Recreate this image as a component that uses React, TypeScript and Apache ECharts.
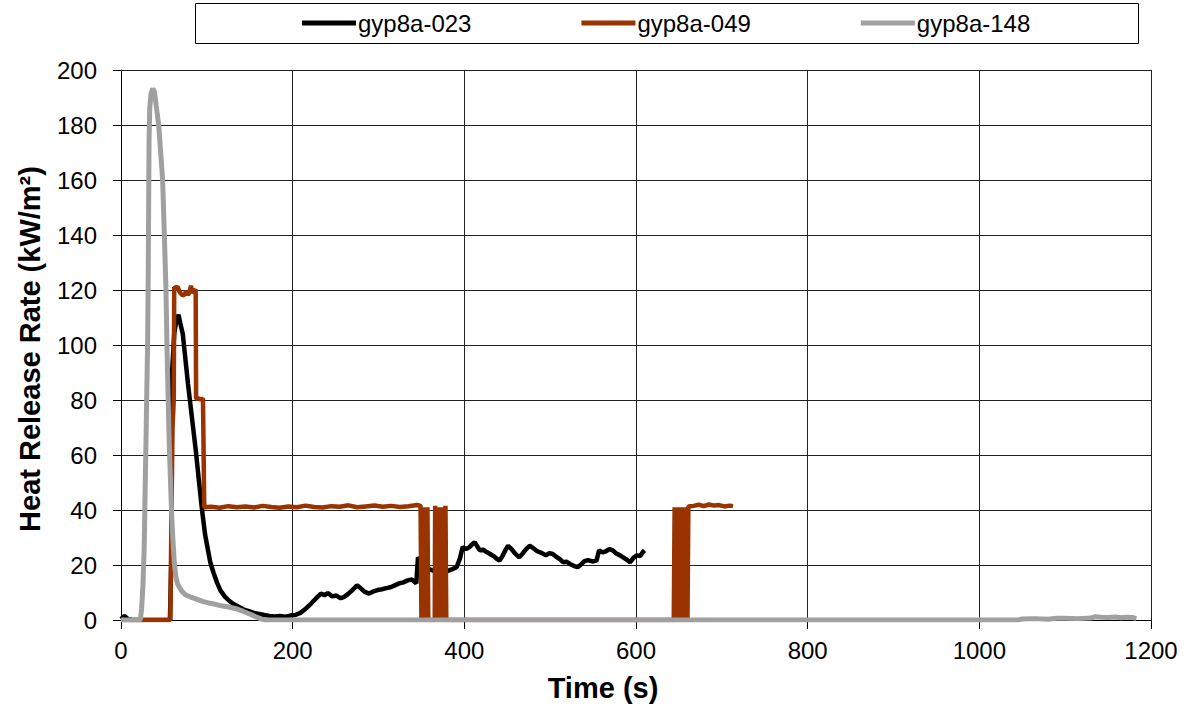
import React, { useEffect, useRef } from "react";
import * as echarts from "echarts";

// Heat release rate curves, [time (s), HRR (kW/m²)]
const seriesNames = ["gyp8a-023", "gyp8a-049", "gyp8a-148"];
const seriesColors = ["#000000", "#993300", "#a0a0a0"];

const hrr023: [number, number][] = [
  [0, 0.3], [4, 1.5], [8, 0.4], [12, 0], [57, 0], [58.5, 20], [59.5, 90],
  [62, 104], [64.5, 109], [67, 111], [69, 108], [72, 104], [75, 95], [78, 86], [81, 78],
  [84, 70], [87, 62], [90, 53], [93, 44], [95, 38.5], [98, 31], [101, 26], [104, 21],
  [108, 17], [112, 13.5], [116, 10.7], [121, 8.5], [126, 7], [131, 5.8], [137, 4.8],
  [143, 3.8], [149, 3.2], [155, 2.6], [161, 2.2], [167, 1.8], [173, 1.5], [179, 1.3],
  [185, 1.5], [191, 1.2], [197, 1.6], [203, 1.8], [209, 2.6], [214, 3.8], [219, 5.2],
  [224, 6.8], [229, 8.4], [233, 9.6], [237, 9.0], [241, 9.8], [246, 8.6], [251, 8.9],
  [256, 7.9], [260, 8.4], [265, 9.6], [270, 11.0], [275, 12.6], [279, 11.6], [284, 10.2],
  [289, 9.6], [294, 10.4], [299, 10.9], [304, 11.2], [309, 11.6], [314, 11.9], [319, 12.6],
  [324, 13.3], [329, 13.7], [334, 14.4], [339, 14.7], [344, 13.3], [346, 22.8], [349, 21.5],
  [352, 20.4], [357, 18.8], [363, 18.0], [369, 17.6], [375, 18.4], [380, 17.8], [386, 18.5],
  [391, 19.2], [395, 22.5], [398, 26.5], [402, 25.8], [406, 26.5], [409, 27.5], [412, 28.3],
  [415, 26.8], [418, 25.3], [422, 25.6], [426, 24.7], [430, 24.0], [434, 23.3], [438, 22.2],
  [441, 21.6], [444, 23.0], [448, 25.5], [451, 27.0], [455, 25.8], [459, 24.2], [464, 22.8],
  [468, 24.2], [472, 25.8], [476, 27.0], [480, 26.2], [485, 25.0], [490, 24.4], [495, 23.5],
  [499, 24.3], [503, 24.0], [507, 23.0], [511, 22.2], [515, 21.0], [519, 21.2], [523, 20.4],
  [528, 19.6], [532, 19.2], [536, 20.2], [540, 21.4], [544, 21.8], [549, 21.3], [554, 21.6],
  [557, 25.3], [561, 24.6], [565, 25.0], [569, 25.8], [573, 25.3], [577, 24.2], [581, 23.6],
  [585, 22.8], [589, 22.0], [593, 21.0], [597, 22.6], [601, 23.5], [605, 23.3], [608, 24.7],
  [610, 25.3],
];

const hrr049: [number, number][] = [
  [0, 0], [57.5, 0], [58.5, 30], [60, 70], [61.5, 80], [62, 121], [64, 120.8], [66, 121.2],
  [68, 119.5], [70, 118.6], [72, 118], [74, 118.4], [76, 119.5], [78, 118.2], [80, 119.3],
  [81.5, 121.6], [83, 119], [85, 119.6], [87, 120.2], [87.5, 80.4], [90, 80.6], [93, 80.2],
  [95.5, 80.5], [97, 41], [105, 41.2], [115, 40.8], [125, 41.4], [135, 41.0], [145, 41.3],
  [155, 40.9], [165, 41.5], [175, 41.1], [185, 40.8], [195, 41.3], [205, 41.0], [215, 41.6],
  [225, 41.1], [235, 40.9], [245, 41.4], [255, 41.2], [265, 41.7], [275, 41.0], [285, 41.3],
  [295, 41.6], [305, 41.2], [315, 41.5], [325, 41.1], [335, 41.4], [345, 41.8], [349, 41.5],
  // sensor dropout: rapid switching between 0 and the plateau
  [350, 0], [351, 41], [352, 0], [353, 41], [354, 0], [355, 41], [356, 0], [357, 41], [358, 0],
  [365.5, 0], [366, 41.5], [367, 0], [368, 41], [369, 0], [370, 41], [371, 0], [372, 41],
  [373, 0], [374, 41], [375, 0], [376, 41], [377, 0], [378, 41.5], [379, 0],
  [644, 0], [645, 41], [646, 0], [647, 41], [648, 0], [649, 41], [650, 0], [651, 41], [652, 0],
  [653, 41], [654, 0], [655, 41], [656, 0], [657, 41], [658, 0], [659, 41], [660, 0],
  [661, 41.3], [667, 41.5], [673, 41.9], [679, 41.4], [685, 42.0], [691, 41.6], [697, 41.8],
  [703, 41.3], [709, 41.6], [713, 41.4],
];

const hrr148: [number, number][] = [
  [0, 0], [22.5, 0], [24, 4], [25.5, 12], [27, 26], [28, 45], [29, 63], [30, 82], [31, 100],
  [31.7, 125], [32.2, 150], [32.7, 175], [33.5, 186], [35, 191.5], [37, 193.2], [39, 192],
  [41, 187], [43.9, 180], [46, 171], [48.5, 160], [50.5, 140], [52.4, 120], [53.6, 99],
  [55, 80], [56.3, 63], [57.7, 50], [59, 38.6], [60.5, 29], [62.2, 20.4], [64, 15.5],
  [66, 13], [68, 11.9], [71, 10.4], [75, 9.2], [81.6, 8.3], [88, 7.6], [95, 6.8],
  [102, 6.2], [107, 5.9], [115, 5.3], [124, 4.8], [134, 4.1], [142, 3.2], [150, 2.2],
  [157, 1.2], [163, 0.4], [168, 0], [1045, 0], [1050, 0.4], [1065, 0.5], [1080, 0.3],
  [1090, 0.6], [1100, 0.6], [1115, 0.5], [1130, 0.7], [1135, 1.2], [1142, 1.0],
  [1150, 0.9], [1158, 1.1], [1165, 0.8], [1172, 1.0], [1178, 0.9], [1183, 0.6],
];

const seriesData = [hrr023, hrr049, hrr148];
const lineWidths = [4.5, 4.5, 5];

const FONT = "'Liberation Sans', Arial, sans-serif";

export default function App() {
  const ref = useRef<HTMLDivElement>(null);

  useEffect(() => {
    if (!ref.current) return;
    const chart = echarts.init(ref.current, undefined, { renderer: "svg" });
    chart.setOption({
      animation: false,
      backgroundColor: "#ffffff",
      textStyle: { fontFamily: FONT },
      grid: { left: 121, right: 49, top: 70, bottom: 88, containLabel: false },
      legend: {
        data: seriesNames,
        left: 302,
        top: 11,
        padding: 0,
        icon: "rect",
        itemWidth: 54,
        itemHeight: 5,
        itemGap: 110,
        textStyle: { fontSize: 24, color: "#000", fontFamily: FONT, padding: [0, 0, 0, -3] },
      },
      xAxis: {
        type: "value",
        min: 0,
        max: 1200,
        interval: 200,
        axisLine: { show: true, lineStyle: { color: "#000", width: 1 } },
        axisTick: { show: true, inside: false, length: 9, lineStyle: { color: "#000" } },
        axisLabel: {
          fontSize: 24,
          color: "#000",
          margin: 18,
          fontFamily: FONT,
          formatter: (v: number) => String(v),
        },
        splitLine: { show: true, lineStyle: { color: "#222", width: 1 } },
      },
      yAxis: {
        type: "value",
        min: 0,
        max: 200,
        interval: 20,
        axisLine: { show: true, lineStyle: { color: "#000", width: 1 } },
        axisTick: { show: true, inside: false, length: 8, lineStyle: { color: "#000" } },
        axisLabel: {
          fontSize: 24,
          color: "#000",
          margin: 24,
          fontFamily: FONT,
          formatter: (v: number) => String(v),
        },
        splitLine: { show: true, lineStyle: { color: "#222", width: 1 } },
      },
      series: seriesNames.map((name, i) => ({
        name,
        type: "line",
        data: seriesData[i],
        showSymbol: false,
        symbol: "none",
        color: seriesColors[i],
        lineStyle: { color: seriesColors[i], width: lineWidths[i] },
        z: 2 + i,
      })),
      graphic: [
        {
          type: "rect",
          shape: { x: 195.5, y: 3.5, width: 943, height: 40 },
          style: { fill: "none", stroke: "#000", lineWidth: 1 },
          z: -1,
        },
        {
          type: "text",
          x: 30,
          y: 349,
          rotation: Math.PI / 2,
          style: {
            text: "Heat Release Rate (kW/m²)",
            fontSize: 29,
            fontWeight: "bold",
            fontFamily: FONT,
            fill: "#000",
            align: "center",
            verticalAlign: "middle",
          },
        },
        {
          type: "text",
          x: 603,
          y: 688,
          style: {
            text: "Time (s)",
            fontSize: 29,
            fontWeight: "bold",
            fontFamily: FONT,
            fill: "#000",
            align: "center",
            verticalAlign: "middle",
          },
        },
      ],
    });
    return () => chart.dispose();
  }, []);

  return (
    <div
      ref={ref}
      style={{ position: "fixed", left: 0, top: 0, width: 1200, height: 708 }}
    />
  );
}
